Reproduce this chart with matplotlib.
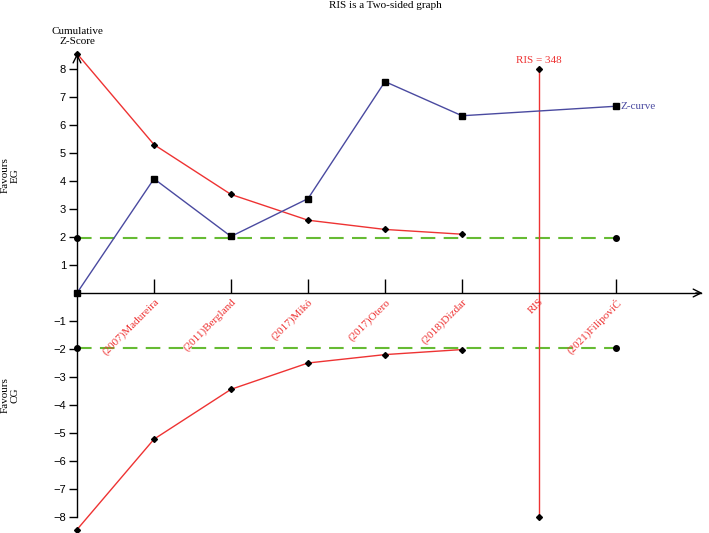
import numpy as np
import matplotlib
matplotlib.use("Agg")
import matplotlib.pyplot as plt

# Dati
studies = ["(2007)Madureira", "(2011)Bergland", "(2017)Mikó", "(2017)Otero",
           "(2018)Dizdar", "RIS", "(2021)FilipoviĆ"]
study_pos = [1, 2, 3, 4, 5, 6, 7]
tick_pos = [1, 2, 3, 4, 5, 7]

z_x = [0, 1, 2, 3, 4, 5, 7]
z_vals = [0.0, 4.08, 2.02, 3.37, 7.55, 6.33, 6.67]

bound_x = [0, 1, 2, 3, 4, 5]
upper_bound = [8.55, 5.3, 3.52, 2.6, 2.27, 2.1]
lower_bound = [-8.45, -5.22, -3.44, -2.5, -2.2, -2.02]

conv_z = 1.96
ris_pos = 6
ris_label = "RIS = 348"
y_ticks = [-8, -7, -6, -5, -4, -3, -2, -1, 1, 2, 3, 4, 5, 6, 7, 8]

red = "#ee3333"
blue = "#4a4aa0"
green = "#66bb33"
serif = "Liberation Serif"

fig = plt.figure(figsize=(7.09, 5.33), dpi=100)
ax = fig.add_axes([0, 0, 1, 1])
# 77 px per studio, 28 px per unità z, origine a (77, 293)
ax.set_xlim(-1.0, (709 - 77) / 77)
ax.set_ylim(-(533 - 293) / 28, 293 / 28)

for s in ["top", "right"]:
    ax.spines[s].set_visible(False)
ax.spines["left"].set_position(("data", 0))
ax.spines["bottom"].set_position(("data", 0))
ax.spines["left"].set_bounds(-8, 8.5)
ax.spines["bottom"].set_bounds(0, 8.1)
ax.spines["left"].set_linewidth(1.0)
ax.spines["bottom"].set_linewidth(1.0)

ax.set_yticks(y_ticks)
ax.set_yticklabels([f"{t}".replace("-", "\u2212") for t in y_ticks],
                   fontsize=8, family="Liberation Sans")
ax.tick_params(axis="y", direction="out", length=6, width=1, pad=2)
ax.set_xticks(tick_pos)
ax.set_xticklabels([])
ax.tick_params(axis="x", direction="in", length=10, width=1)

# frecce degli assi
ax.annotate("", xy=(8.16, 0), xytext=(8.0, 0),
            arrowprops=dict(arrowstyle="->", color="black", lw=1, mutation_scale=14))
ax.annotate("", xy=(0, 8.65), xytext=(0, 8.4),
            arrowprops=dict(arrowstyle="->", color="black", lw=1, mutation_scale=14))

# linee di convenzionale significatività
for sign in [1, -1]:
    ax.plot([0, 7], [sign * conv_z, sign * conv_z], color=green, lw=1.5,
            dashes=(7, 4), zorder=2)
    ax.plot([0, 7], [sign * conv_z, sign * conv_z], "o", color="black",
            ms=4, zorder=5)

# confini di monitoraggio
ax.plot(bound_x, upper_bound, color=red, lw=1, marker="D", ms=3,
        mfc="black", mec="black", zorder=3)
ax.plot(bound_x, lower_bound, color=red, lw=1, marker="D", ms=3,
        mfc="black", mec="black", zorder=3)

# linea RIS
ax.plot([ris_pos, ris_pos], [-8, 8], color=red, lw=1, zorder=2)
ax.plot([ris_pos, ris_pos], [-8, 8], "D", color="black", ms=3, zorder=5)
ax.text(ris_pos, 8.15, ris_label, color=red, fontsize=8, family=serif,
        ha="center", va="bottom")

# Z-curve
ax.plot(z_x, z_vals, color=blue, lw=1, marker="s", ms=5,
        mfc="black", mec="black", zorder=4)
ax.text(z_x[-1] + 0.06, z_vals[-1], "Z-curve", color=blue, fontsize=8,
        family=serif, ha="left", va="center")

# etichette degli studi
for p, name in zip(study_pos, studies):
    ax.text(p, -0.15, name, color=red, fontsize=8, family=serif,
            rotation=45, rotation_mode="anchor", ha="right", va="top")

ax.text(0, 9.15, "Cumulative\nZ-Score", fontsize=8, family=serif,
        ha="center", va="center", linespacing=1.1)
ax.text(-0.87, 4.2, "Favours\nEG", fontsize=8, family=serif, rotation=90,
        ha="center", va="center", linespacing=1.1)
ax.text(-0.87, -3.65, "Favours\nCG", fontsize=8, family=serif, rotation=90,
        ha="center", va="center", linespacing=1.1)

fig.text(385 / 709, 1 - 6 / 533, "RIS is a Two-sided graph", fontsize=8,
         family=serif, ha="center", va="center")

fig.savefig("out.png", dpi=100, facecolor="white")
